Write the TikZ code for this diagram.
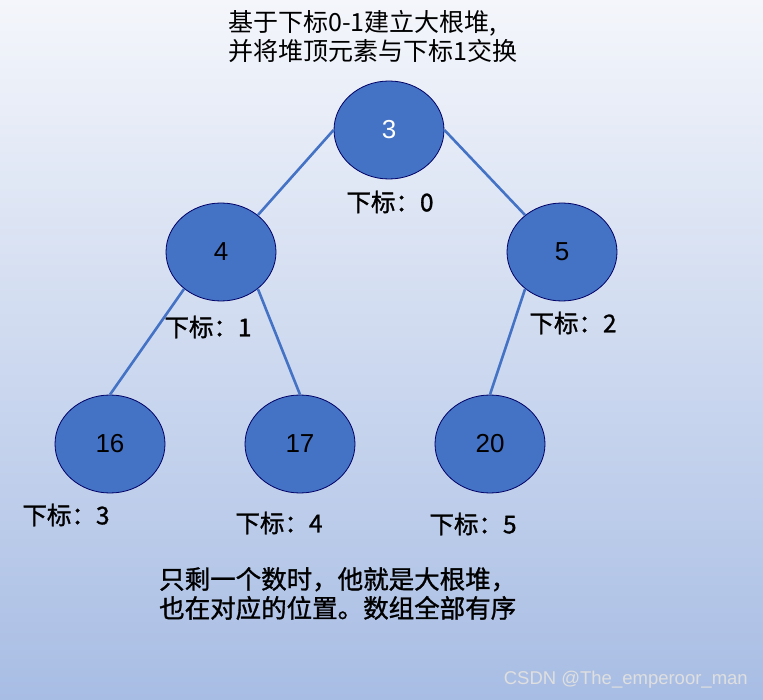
\documentclass[tikz,border=0pt]{standalone}
\usepackage{fontspec}
\setmainfont{Liberation Sans}
\newfontfamily\cjk{Noto Sans CJK SC}
\newfontfamily\cjkm[FakeBold=1.2]{Noto Sans CJK SC}
\usetikzlibrary{shapes.geometric}

\begin{document}
\begin{tikzpicture}[
    x=1pt, y=-1pt,
    heapnode/.style={draw=blue!40!black, ellipse, fill=heapblue, line width=0.8pt,
                     minimum width=110pt, minimum height=98pt, inner sep=0pt,
                     font=\fontsize{26}{30}\selectfont},
    idx/.style={font=\cjkm\fontsize{24.5}{28}\selectfont, inner sep=0pt},
    edge/.style={draw=heapblue, line width=2.6pt}
]
    \definecolor{heapblue}{HTML}{4472C4}
    % background
    \shade[top color={rgb,255:red,244;green,246;blue,251},
           bottom color={rgb,255:red,168;green,189;blue,228}]
        (0,0) rectangle (763,700);
    \useasboundingbox (0,0) rectangle (763,700);

    % title
    \node[font=\cjk\fontsize{25}{29}\selectfont, align=left, anchor=north west, inner sep=0pt]
        (title) at (228,10) {基于下标0-1建立大根堆,\\并将堆顶元素与下标1交换};

    % Root
    \node[heapnode, text=white] (n0) at (389,130) {3};
    % Level 1
    \node[heapnode] (n1) at (221,252) {4};
    \node[heapnode] (n2) at (562,252) {5};
    % Level 2
    \node[heapnode] (n3) at (110,444) {16};
    \node[heapnode] (n4) at (300,444) {17};
    \node[heapnode] (n5) at (490,444) {20};

    % Index labels
    \node[idx] (i0) at (390,202) {下标：0};
    \node[idx] (i1) at (208,327) {下标：1};
    \node[idx] (i2) at (573,323) {下标：2};
    \node[idx] (i3) at (66,515) {下标：3};
    \node[idx] (i4) at (279,523) {下标：4};
    \node[idx] (i5) at (473,524) {下标：5};

    % Edges
    \draw[edge] (n0.west) -- (n1.45);
    \draw[edge] (n0.east) -- (n2.135);
    \draw[edge] (n1.-135) -- (n3.north);
    \draw[edge] (n1.-45) -- (n4.north);
    \draw[edge] (n2.-135) -- (n5.north);

    % note
    \node[font=\cjkm\fontsize{25.5}{29}\selectfont, align=left, anchor=north west, inner sep=0pt]
        (note) at (159,567) {只剩一个数时，他就是大根堆，\\也在对应的位置。数组全部有序};

    % watermark
    \node[font=\fontsize{18.5}{21}\selectfont, text=white!75!gray, anchor=east, inner sep=0pt]
        (mark) at (748,680) {CSDN @The\_emperoor\_man};
\end{tikzpicture}
\end{document}
